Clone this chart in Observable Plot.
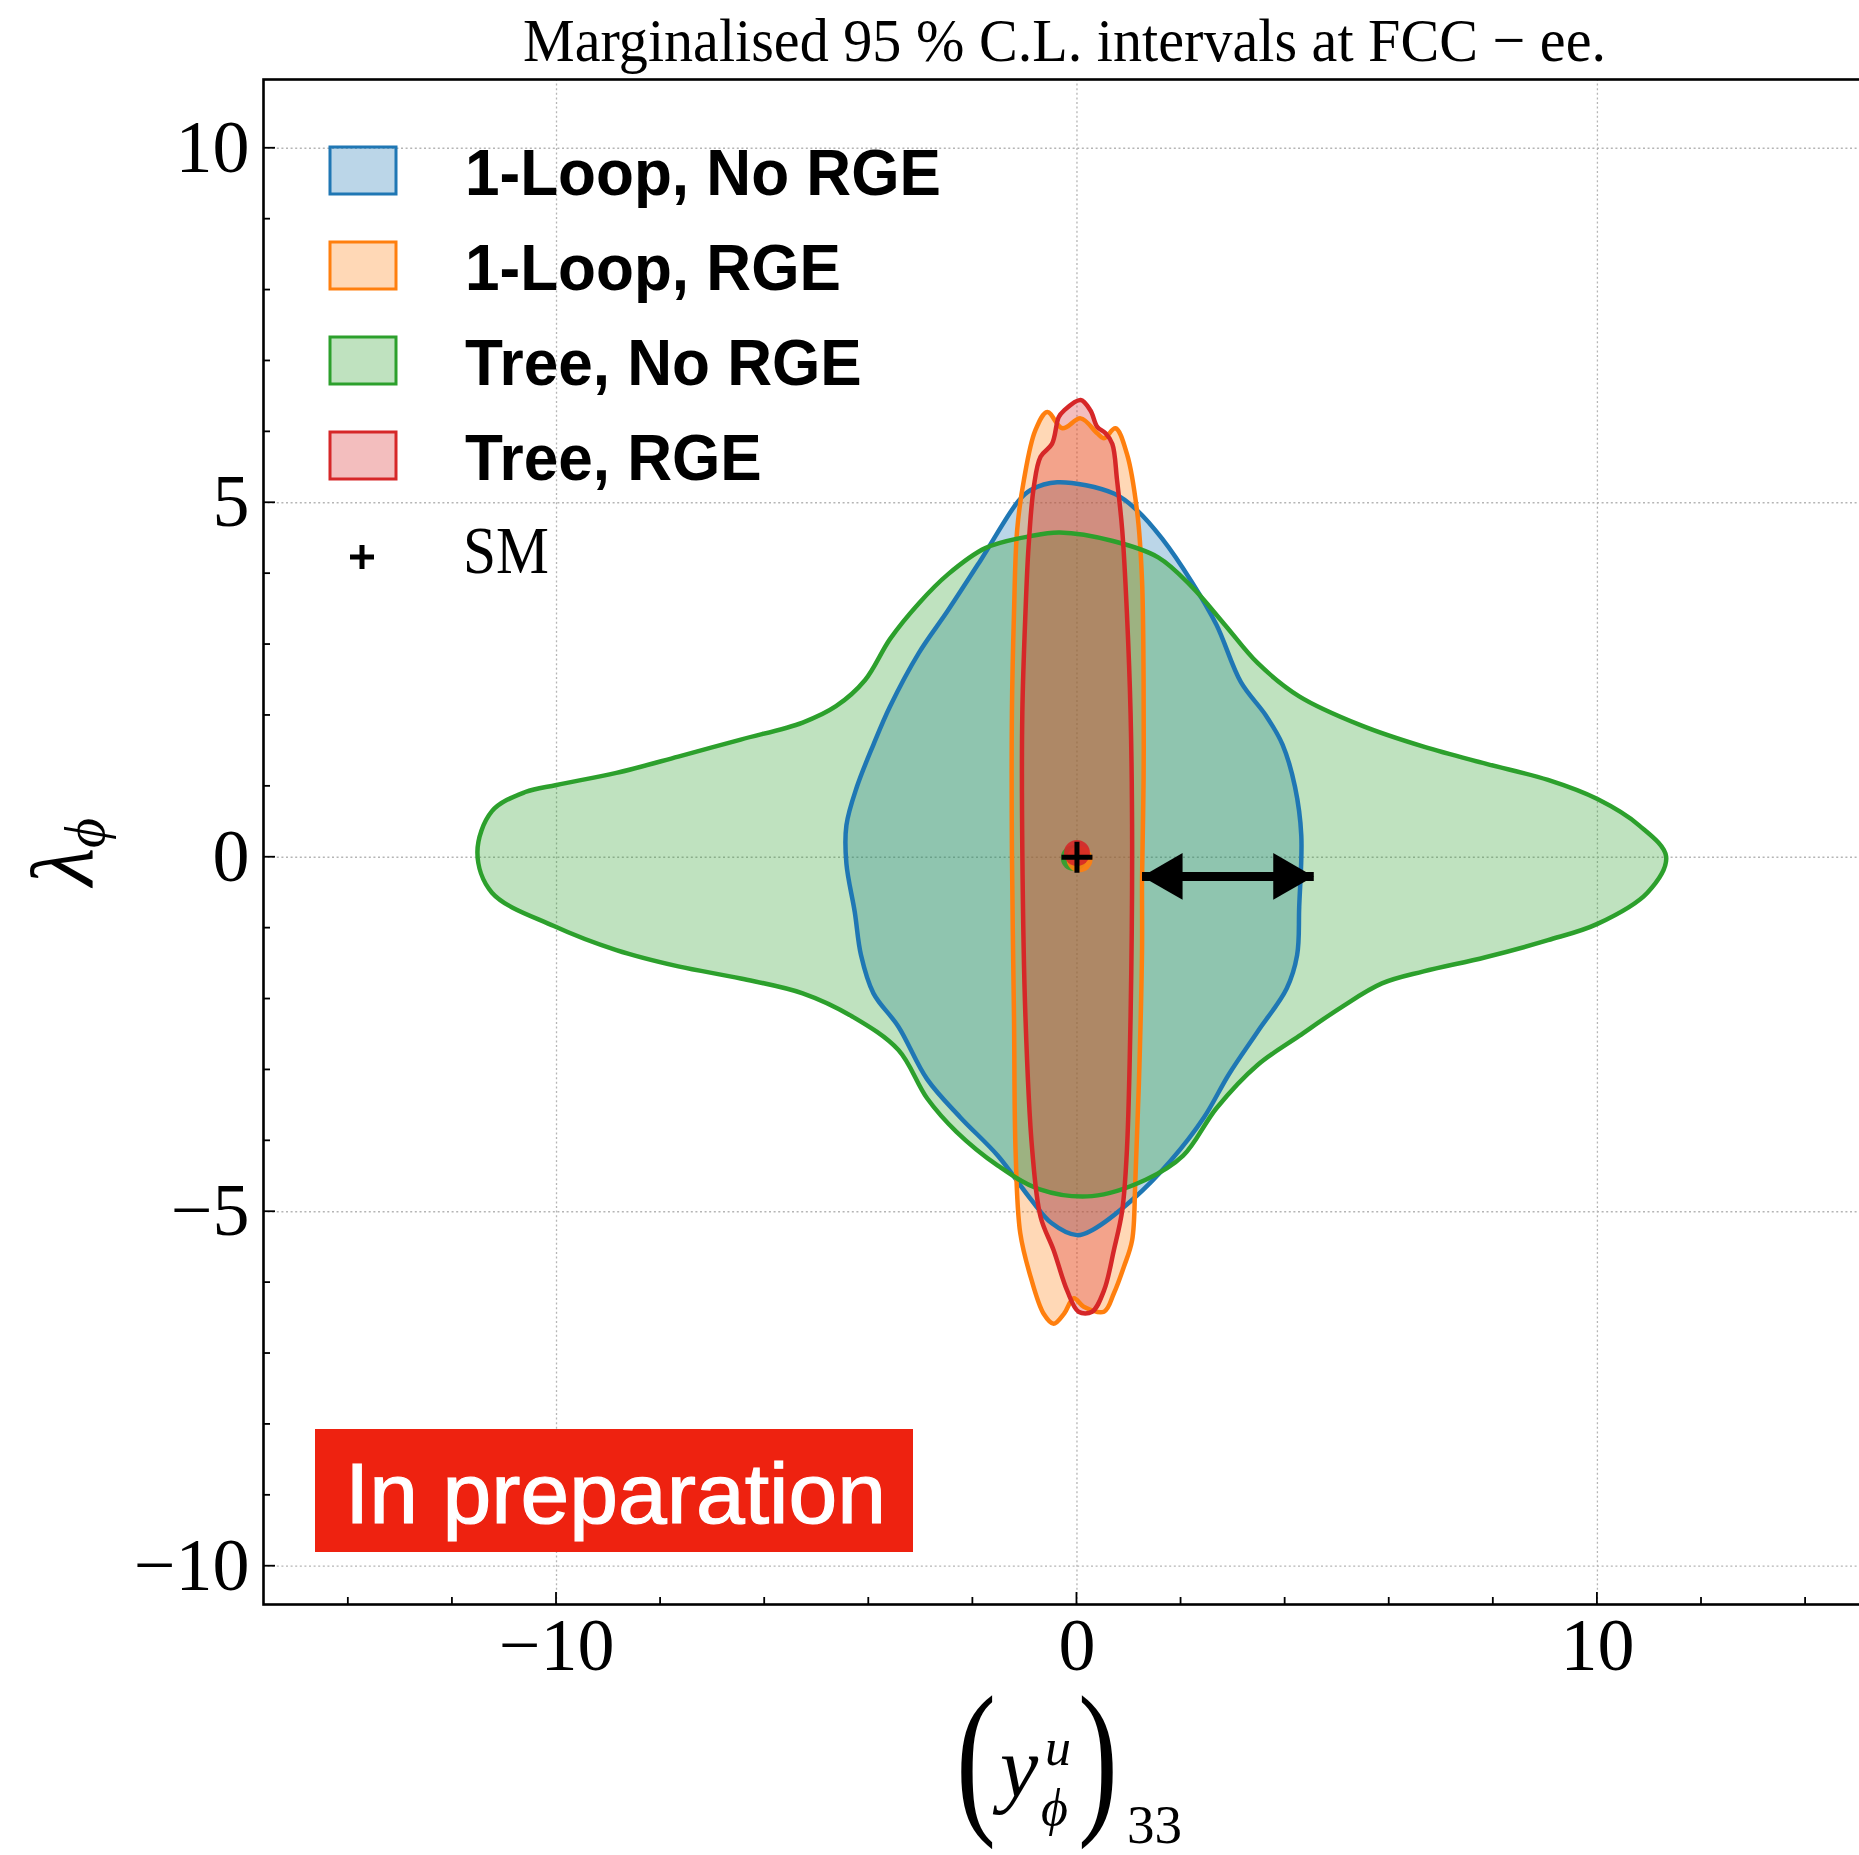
<!DOCTYPE html>
<html><head><meta charset="utf-8">
<script src="https://cdn.jsdelivr.net/npm/d3@7"></script>
<script src="https://cdn.jsdelivr.net/npm/@observablehq/plot@0.6"></script>
<style>html,body{margin:0;padding:0;background:#fff;overflow:hidden}</style>
</head><body><div id="chart"></div>
<script>
// ---------- data ----------
const seriesNames = ["1-Loop, No RGE", "1-Loop, RGE", "Tree, No RGE", "Tree, RGE"];
const seriesColors = ["#1f77b4", "#ff7f0e", "#2ca02c", "#d62728"];

// 95% C.L. contours, [(y_phi^u)_33, lambda_phi], traced clockwise
const loopNoRGE = [[-0.38,5.29],[0.71,5.13],[1.16,4.89],[1.64,4.49],[2.20,3.89],[2.68,3.28],[3.15,2.47],[3.63,2.00],[3.95,1.59],[4.19,0.99],[4.31,0.31],[4.27,-0.70],[4.23,-1.38],[4.03,-1.85],[3.47,-2.46],[2.92,-3.06],[2.44,-3.67],[1.80,-4.28],[1.08,-4.82],[0.29,-5.26],[0.0,-5.33],[-0.49,-5.16],[-0.89,-4.82],[-1.52,-4.21],[-2.24,-3.67],[-2.88,-3.13],[-3.43,-2.39],[-3.91,-1.92],[-4.15,-1.38],[-4.27,-0.77],[-4.43,-0.09],[-4.43,0.45],[-4.23,0.99],[-3.91,1.59],[-3.59,2.13],[-3.04,2.88],[-2.48,3.48],[-1.85,4.19],[-1.12,5.03],[-0.89,5.18]];
const loopRGE = [[-0.57,6.28],[-0.28,6.05],[0.07,6.19],[0.39,5.98],[0.52,5.91],[0.74,6.05],[0.96,5.69],[1.16,4.85],[1.25,3.91],[1.28,2.50],[1.28,1.09],[1.25,-0.32],[1.25,-1.31],[1.19,-3.19],[1.12,-4.60],[1.06,-5.40],[0.90,-5.78],[0.71,-6.15],[0.52,-6.41],[0.13,-6.34],[-0.06,-6.22],[-0.25,-6.44],[-0.45,-6.58],[-0.64,-6.44],[-0.89,-5.92],[-1.09,-5.30],[-1.18,-4.13],[-1.21,-2.25],[-1.25,0.10],[-1.25,2.03],[-1.21,3.44],[-1.15,4.61],[-1.02,5.32],[-0.80,6.02]];
const treeNoRGE = [[-0.33,4.58],[0.69,4.46],[1.56,4.23],[2.20,3.82],[2.84,3.28],[3.47,2.74],[4.27,2.27],[5.46,1.86],[6.66,1.56],[7.85,1.32],[9.05,1.09],[10.0,0.82],[10.80,0.45],[11.32,0.01],[10.96,-0.50],[10.0,-0.94],[9.05,-1.17],[7.85,-1.41],[6.66,-1.61],[5.86,-1.78],[5.07,-2.12],[4.27,-2.52],[3.47,-2.93],[2.68,-3.54],[2.04,-4.21],[1.32,-4.55],[0.29,-4.78],[-0.73,-4.68],[-1.52,-4.35],[-2.32,-3.87],[-2.88,-3.40],[-3.43,-2.72],[-4.31,-2.25],[-5.27,-1.92],[-6.46,-1.71],[-7.66,-1.54],[-8.85,-1.31],[-10.05,-0.97],[-11.24,-0.50],[-11.52,0.07],[-11.24,0.65],[-10.60,0.92],[-10.0,1.02],[-8.85,1.19],[-7.66,1.42],[-6.46,1.66],[-5.27,1.90],[-4.63,2.13],[-4.07,2.50],[-3.59,3.08],[-3.04,3.58],[-2.48,3.99],[-1.76,4.36],[-0.89,4.53]];
const treeRGE = [[0.07,6.45],[0.26,6.30],[0.39,6.07],[0.55,5.98],[0.68,5.83],[0.77,5.32],[0.87,4.61],[0.96,3.44],[1.03,2.03],[1.06,0.15],[1.03,-2.25],[0.96,-4.13],[0.87,-4.98],[0.71,-5.54],[0.52,-6.11],[0.29,-6.41],[0.03,-6.41],[-0.19,-6.11],[-0.45,-5.54],[-0.70,-5.07],[-0.86,-4.13],[-0.99,-2.25],[-1.05,0.10],[-1.05,2.03],[-0.99,3.44],[-0.93,4.38],[-0.83,5.22],[-0.70,5.65],[-0.48,5.83],[-0.35,6.21],[-0.25,6.30]];
const contours = [loopNoRGE, loopRGE, treeNoRGE, treeRGE];

const smPoint = [{x: 0, y: 0}];
const bestFit = [
  {series: "Tree, No RGE", x: -0.06, y: -0.01},
  {series: "1-Loop, RGE", x: 0.05, y: -0.03},
  {series: "Tree, RGE", x: 0.0, y: 0.06}
];
const arrowSpan = [{x1: 1.25, x2: 4.55, y: -0.27}];

const xTicks = [-10, 0, 10];
const yTicks = [-10, -5, 0, 5, 10];
const xMinor = [-14, -12, -8, -6, -4, -2, 2, 4, 6, 8, 12, 14];
const yMinor = [-9, -8, -7, -6, -4, -3, -2, -1, 1, 2, 3, 4, 6, 7, 8, 9];
const xDomain = [-15.63, 15.42];
const yDomain = [-10.54, 10.97];

const titleText = "Marginalised 95 % C.L. intervals at FCC \u2212 ee.";
const stampText = "In preparation";

// ---------- plot ----------
const W = 1859, H = 1855;
const mL = 263, mT = 79, mB = 251, mR = -20;
const fmt = d => d < 0 ? "\u2212" + Math.abs(d) : String(d);
const colorOf = name => seriesColors[seriesNames.indexOf(name)];
const rowsOf = pts => pts.map(([x, y]) => ({x, y}));

const fillMarks = contours.map((pts, i) =>
  Plot.line(rowsOf(pts), {
    x: "x", y: "y", curve: "catmull-rom-closed",
    fill: seriesColors[i], fillOpacity: 0.3, stroke: "none"
  })
);
const lineMarks = contours.map((pts, i) =>
  Plot.line(rowsOf(pts), {
    x: "x", y: "y", curve: "catmull-rom-closed",
    fill: "none", stroke: seriesColors[i], strokeWidth: 4.5, strokeLinejoin: "round"
  })
);

const plot = Plot.plot({
  width: W, height: H,
  marginLeft: mL, marginRight: mR, marginTop: mT, marginBottom: mB,
  style: {background: "white", fontFamily: "Liberation Serif", overflow: "visible"},
  x: {domain: xDomain, label: null},
  y: {domain: yDomain, label: null},
  marks: [
    Plot.gridX(xTicks, {stroke: "#b5b5b5", strokeOpacity: 1, strokeWidth: 1.3, strokeDasharray: "2,2.6"}),
    Plot.gridY(yTicks, {stroke: "#b5b5b5", strokeOpacity: 1, strokeWidth: 1.3, strokeDasharray: "2,2.6"}),
    ...fillMarks,
    ...lineMarks,
    Plot.dot(bestFit, {x: "x", y: "y", r: 13, fill: d => colorOf(d.series), fillOpacity: 0.9}),
    Plot.dot(smPoint, {x: "x", y: "y", symbol: "plus", r: 10, stroke: "black", strokeWidth: 5}),
    Plot.link(arrowSpan, {x1: "x1", x2: "x2", y1: "y", y2: "y", stroke: "black", strokeWidth: 9}),
    Plot.dot(arrowSpan, {x: "x1", y: "y", symbol: "triangle", r: 17.4, fill: "black", rotate: -90, dx: 27}),
    Plot.dot(arrowSpan, {x: "x2", y: "y", symbol: "triangle", r: 17.4, fill: "black", rotate: 90, dx: -27}),
    Plot.axisX(xTicks, {tickSize: 0, tickPadding: 13, fontSize: 74, fontFamily: "Liberation Serif", tickFormat: fmt, label: null}),
    Plot.axisY(yTicks, {tickSize: 0, tickPadding: 14, fontSize: 74, fontFamily: "Liberation Serif", tickFormat: fmt, label: null}),
    Plot.frame({stroke: "black", strokeWidth: 2.6})
  ]
});
document.getElementById("chart").appendChild(plot);

const svg = d3.select(plot);
const sx = plot.scale("x"), sy = plot.scale("y");
const bottom = H - mB, left = mL;

// inward ticks
const tg = svg.append("g").attr("stroke", "black").attr("stroke-width", 1.8);
xTicks.forEach(v => tg.append("line").attr("x1", sx.apply(v)).attr("x2", sx.apply(v)).attr("y1", bottom).attr("y2", bottom - 12));
xMinor.forEach(v => tg.append("line").attr("x1", sx.apply(v)).attr("x2", sx.apply(v)).attr("y1", bottom).attr("y2", bottom - 7));
yTicks.forEach(v => tg.append("line").attr("y1", sy.apply(v)).attr("y2", sy.apply(v)).attr("x1", left).attr("x2", left + 12));
yMinor.forEach(v => tg.append("line").attr("y1", sy.apply(v)).attr("y2", sy.apply(v)).attr("x1", left).attr("x2", left + 7));

// title
svg.append("text").attr("x", 1064.5).attr("y", 61).attr("text-anchor", "middle")
  .attr("font-family", "Liberation Serif").attr("font-size", 62).attr("fill", "black")
  .attr("textLength", 1083).attr("lengthAdjust", "spacingAndGlyphs").text(titleText);

// y label  lambda_phi
const yl = svg.append("text").attr("transform", "translate(92,852) rotate(-90)")
  .attr("text-anchor", "middle").attr("font-family", "Liberation Serif")
  .attr("font-style", "italic").attr("font-size", 88).attr("fill", "black");
yl.append("tspan").text("\u03bb");
yl.append("tspan").attr("font-size", 58).attr("dy", 12).text("\u03d5");

// x label  (y_phi^u)_33 as one text element
const xl = svg.append("text").attr("fill", "black").attr("font-family", "Liberation Serif")
  .attr("text-anchor", "start").attr("x", 956).attr("y", 1813);
xl.append("tspan").attr("x", 956).attr("y", 1813).attr("font-size", 170)
  .attr("textLength", 40).attr("lengthAdjust", "spacingAndGlyphs").text("(");
xl.append("tspan").attr("x", 1000).attr("y", 1796).attr("font-size", 86).attr("font-style", "italic").text("y");
xl.append("tspan").attr("x", 1045).attr("y", 1765).attr("font-size", 52).attr("font-style", "italic").text("u");
xl.append("tspan").attr("x", 1041).attr("y", 1825).attr("font-size", 52).attr("font-style", "italic").text("\u03d5");
xl.append("tspan").attr("x", 1078).attr("y", 1813).attr("font-size", 170)
  .attr("textLength", 40).attr("lengthAdjust", "spacingAndGlyphs").text(")");
xl.append("tspan").attr("x", 1127).attr("y", 1843).attr("font-size", 55).text("33");

// legend
const lg = svg.append("g").attr("text-anchor", "start");
seriesNames.forEach((name, i) => {
  const y0 = 147 + i * 95;
  lg.append("rect").attr("x", 330).attr("y", y0).attr("width", 66).attr("height", 47)
    .attr("fill", seriesColors[i]).attr("fill-opacity", 0.3)
    .attr("stroke", seriesColors[i]).attr("stroke-width", 3);
  const t = lg.append("text").attr("x", 465).attr("y", y0 + 48)
    .attr("font-family", "Liberation Sans").attr("font-weight", "bold")
    .attr("font-size", 65).attr("fill", "black").text(name);
  const n = t.node().getComputedTextLength();
  t.attr("textLength", n * 0.955).attr("lengthAdjust", "spacingAndGlyphs");
});
lg.append("path").attr("d", "M350,557H374M362,545V569").attr("stroke", "black").attr("stroke-width", 5);
lg.append("text").attr("x", 463).attr("y", 573).attr("font-family", "Liberation Serif")
  .attr("font-size", 68).attr("fill", "black")
  .attr("textLength", 86).attr("lengthAdjust", "spacingAndGlyphs").text("SM");

// "In preparation" stamp
svg.append("rect").attr("x", 315).attr("y", 1429).attr("width", 598).attr("height", 123).attr("fill", "#ee2210");
svg.append("text").attr("x", 345).attr("y", 1523).attr("text-anchor", "start").attr("font-family", "Liberation Sans")
  .attr("font-size", 86).attr("fill", "white").attr("stroke", "white").attr("stroke-width", 1.2)
  .attr("textLength", 541).attr("lengthAdjust", "spacingAndGlyphs").text(stampText);
</script>
</body></html>
